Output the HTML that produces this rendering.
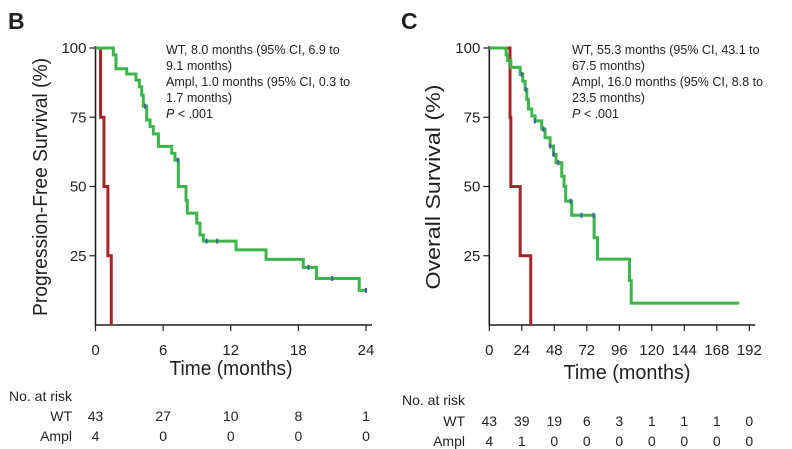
<!DOCTYPE html>
<html><head><meta charset="utf-8">
<style>
html,body{margin:0;padding:0;background:#fff;}
svg{display:block;}
text{font-family:"Liberation Sans Narrow","Liberation Sans",sans-serif;fill:#231f20;}
.ann{font-family:"Liberation Sans",sans-serif;font-size:12.5px;}
</style></head>
<body>
<svg id="chart" width="792" height="449" viewBox="0 0 792 449" xmlns="http://www.w3.org/2000/svg">
<text x="8" y="29" style="font-family:'Liberation Sans',sans-serif;font-weight:bold;font-size:23px">B</text>
<text x="401" y="29" style="font-family:'Liberation Sans',sans-serif;font-weight:bold;font-size:23px">C</text>
<g id="pB"></g>
<g id="pC"></g>
</svg>
<script>
// ---- Panel B data (PFS) ----
const pfsXTicks = [0, 6, 12, 18, 24];
const pfsYTicks = [25, 50, 75, 100];
const pfsWtTimes = [0, 1.58, 1.82, 2.77, 3.59, 3.89, 4.1, 4.24, 4.54, 4.84, 5.13, 5.58, 6.76, 7.05, 7.35, 8.03, 8.15, 8.98, 9.27, 9.57, 12.47, 15.13, 18.44, 19.6, 23.4];
const pfsWtSurv  = [100, 97.5, 92.5, 90.6, 88.4, 86, 83, 79, 74, 71.6, 69, 64.5, 62, 59.5, 50, 45, 40.4, 36.8, 32.5, 30.3, 27.1, 23.7, 20.8, 16.8, 12.5];
const pfsWtEnd = 24;
const pfsWtCensor = [4.4, 7.3, 9.85, 10.8, 18.9, 21.0, 24];
const pfsAmTimes = [0, 0.45, 0.75, 1.1, 1.4];
const pfsAmSurv  = [100, 75, 50, 25, 0];
const pfsAmEnd = 1.4;
const pfsRiskWT = [43, 27, 10, 8, 1];
const pfsRiskAmpl = [4, 0, 0, 0, 0];
// ---- Panel C data (OS) ----
const osXTicks = [0, 24, 48, 72, 96, 120, 144, 168, 192];
const osYTicks = [25, 50, 75, 100];
const osWtTimes = [0, 12.4, 13.5, 15.9, 22.8, 24.7, 26.5, 27.7, 28.9, 31.4, 33.8, 38.7, 41.2, 44.9, 47.4, 49.3, 53.5, 55.2, 56.4, 60.9, 77.4, 79.9, 103.5, 104.8];
const osWtSurv  = [100, 97.5, 95.5, 93, 90.5, 88, 85, 81.5, 78, 75.5, 73.7, 70.7, 67.6, 64.6, 61.6, 58.6, 53.7, 50, 44.7, 39.6, 31.5, 23.8, 16, 7.9];
const osWtEnd = 184.6;
const osWtCensor = [24, 27, 33.8, 40, 45, 47.5, 51, 60, 68, 77];
const osAmTimes = [0, 15.3, 15.9, 22.8, 30.6];
const osAmSurv  = [100, 75, 50, 25, 0];
const osAmEnd = 30.6;
const osRiskWT = [43, 39, 19, 6, 3, 1, 1, 1, 0];
const osRiskAmpl = [4, 1, 0, 0, 0, 0, 0, 0, 0];

const NS = "http://www.w3.org/2000/svg";
function mk(parent, tag, attrs, txt){
  const e = document.createElementNS(NS, tag);
  for (const k in attrs) e.setAttribute(k, attrs[k]);
  if (txt !== undefined) e.textContent = txt;
  parent.appendChild(e);
  return e;
}
function stepPath(times, surv, end, sx, sy){
  let d = "M" + sx(times[0]) + "," + sy(surv[0]);
  for (let i = 1; i < times.length; i++){
    d += " H" + sx(times[i]) + " V" + sy(surv[i]);
  }
  d += " H" + sx(end);
  return d;
}
function survAt(times, surv, t){
  let s = surv[0];
  for (let i = 0; i < times.length; i++) if (times[i] <= t) s = surv[i];
  return s;
}
function panel(g, cfg){
  const sx = t => cfg.x0 + (t - cfg.xmin) / (cfg.xmax - cfg.xmin) * (cfg.x1 - cfg.x0);
  const sy = v => cfg.y0 - v / 100 * (cfg.y0 - cfg.y1);
  const ax = mk(g, "path", {d:"M"+cfg.x0+","+(cfg.y1-2)+" V"+cfg.y0+" H"+(sx(cfg.xmax)+6), fill:"none", stroke:"#231f20", "stroke-width":1.6});
  
  
  cfg.yTicks.forEach(v=>{
    const l = mk(g, "line", {x1:cfg.x0-6, x2:cfg.x0, y1:sy(v), y2:sy(v), stroke:"#231f20", "stroke-width":1.2});
    
    
    const t = mk(g, "text", {x:cfg.x0-9, y:sy(v)+5, "text-anchor":"end", "font-size":15}, String(v));
    
    
  });
  cfg.xTicks.forEach(v=>{
    const l = mk(g, "line", {x1:sx(v), x2:sx(v), y1:cfg.y0, y2:cfg.y0+6, stroke:"#231f20", "stroke-width":1.2});
    
    
    const t = mk(g, "text", {x:sx(v), y:355, "text-anchor":"middle", "font-size":15}, String(v));
    
    
  });
  const xt = mk(g, "text", {x:cfg.xTitleX - cfg.xTitleLen/2, y:cfg.xTitleY, "font-size":20, textLength:cfg.xTitleLen, lengthAdjust:"spacingAndGlyphs"}, "Time (months)");
  
  
  const yt = mk(g, "text", {x:-cfg.yTitleLen/2, y:0, "font-size":20, transform:"translate("+cfg.yTitleX+",187) rotate(-90)", textLength:cfg.yTitleLen, lengthAdjust:"spacingAndGlyphs"}, cfg.yTitle);
  
  
  const am = mk(g, "path", {d:stepPath(cfg.amT, cfg.amS, cfg.amEnd, sx, sy), fill:"none", stroke:"#a3262a", "stroke-width":3});
  
  
  const wt = mk(g, "path", {d:stepPath(cfg.wtT, cfg.wtS, cfg.wtEnd, sx, sy), fill:"none", stroke:"#3db54a", "stroke-width":3});
  
  
  cfg.cens.forEach(c=>{
    const s = survAt(cfg.wtT, cfg.wtS, c);
    const m = mk(g, "line", {x1:sx(c), x2:sx(c), y1:sy(s)-2.5, y2:sy(s)+2.5, stroke:"#3a5fa8", "stroke-width":2});
    
    
  });
  cfg.ann.forEach((ln,i)=>{
    const t = mk(g, "text", {x:cfg.annX, y:54+i*16, class:"ann"});
    
    
    if (ln === "P"){
      mk(t, "tspan", {"font-style":"italic"}, "P");
      mk(t, "tspan", {}, " < .001");
    } else t.textContent = ln;
  });
  const nr = mk(g, "text", {x:cfg.riskLabelX, y:cfg.riskY0, "font-size":14}, "No. at risk");
  
  
  [["WT", cfg.riskWT, cfg.riskY1], ["Ampl", cfg.riskAm, cfg.riskY2]].forEach(r=>{
    const lb = mk(g, "text", {x:cfg.rowLabelX, y:r[2], "text-anchor":"end", "font-size":14}, r[0]);
    
    
    r[1].forEach((n,i)=>{
      const t = mk(g, "text", {x:sx(cfg.xTicks[i]), y:r[2], "text-anchor":"middle", "font-size":14}, String(n));
      
      
    });
  });
}
panel(document.getElementById("pB"), {
  x0:95.5, x1:366, xmin:0, xmax:24, y0:325, y1:48,
  xTicks:pfsXTicks, yTicks:pfsYTicks,
  wtT:pfsWtTimes, wtS:pfsWtSurv, wtEnd:pfsWtEnd, cens:pfsWtCensor,
  amT:pfsAmTimes, amS:pfsAmSurv, amEnd:pfsAmEnd,
  riskWT:pfsRiskWT, riskAm:pfsRiskAmpl,
  xTitleX:231, xTitleY:375, xTitleLen:123, yTitleX:47, yTitleLen:258, yTitle:"Progression-Free Survival (%)",
  annX:166, ann:["WT, 8.0 months (95% CI, 6.9 to","9.1 months)","Ampl, 1.0 months (95% CI, 0.3 to","1.7 months)","P"],
  riskLabelX:9, riskY0:401, riskY1:421, riskY2:441, rowLabelX:72
});
panel(document.getElementById("pC"), {
  x0:489.3, x1:749.3, xmin:0, xmax:192, y0:325, y1:48,
  xTicks:osXTicks, yTicks:osYTicks,
  wtT:osWtTimes, wtS:osWtSurv, wtEnd:osWtEnd, cens:osWtCensor,
  amT:osAmTimes, amS:osAmSurv, amEnd:osAmEnd,
  riskWT:osRiskWT, riskAm:osRiskAmpl,
  xTitleX:627, xTitleY:379, xTitleLen:127, yTitleX:440, yTitleLen:205, yTitle:"Overall Survival (%)",
  annX:572, ann:["WT, 55.3 months (95% CI, 43.1 to","67.5 months)","Ampl, 16.0 months (95% CI, 8.8 to","23.5 months)","P"],
  riskLabelX:402, riskY0:405, riskY1:426, riskY2:446, rowLabelX:465
});
</script>
</body></html>
